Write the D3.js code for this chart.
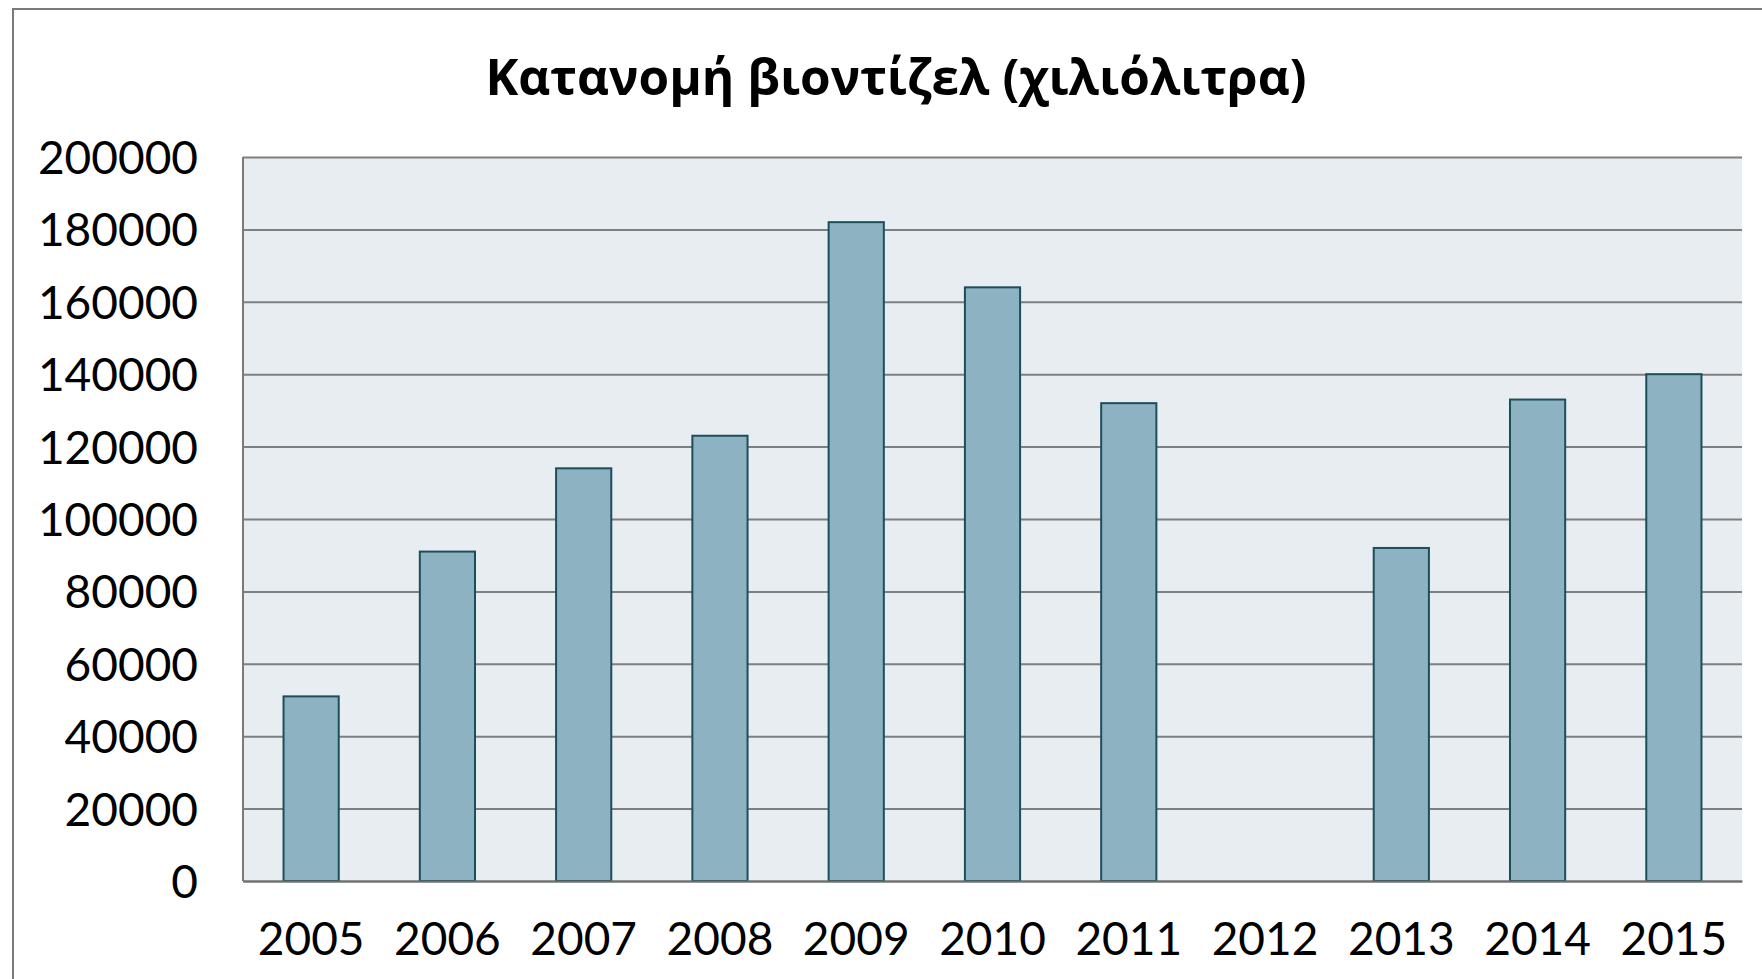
<!DOCTYPE html>
<html>
<head>
<meta charset="utf-8">
<script src="https://cdn.jsdelivr.net/npm/d3@7"></script>
<style>
  html, body { margin: 0; padding: 0; background: #fff; }
  svg { display: block; }
</style>
</head>
<body>
<script>
// DATI DEL GRAFICO
//
var years = ["2005", "2006", "2007", "2008", "2009", "2010", "2011", "2012", "2013", "2014", "2015"];
var values = [51000, 91000, 114000, 123000, 182000, 164000, 132000, null, 92000, 133000, 140000];
var yTicks = [0, 20000, 40000, 60000, 80000, 100000, 120000, 140000, 160000, 180000, 200000];
var title = "Κατανομή βιοντίζελ (χιλιόλιτρα)";

var width = 1762;
var height = 979;

// AREA DEL GRAFICO
//
var plot = { left: 243, right: 1742, top: 157, bottom: 881 };

var svg = d3.select("body").append("svg")
  .attr("width", width)
  .attr("height", height);

// cornice esterna
svg.append("rect")
  .attr("x", 13).attr("y", 9)
  .attr("width", width + 20).attr("height", height + 20)
  .attr("fill", "#fff")
  .attr("stroke", "#7a7a7a")
  .attr("stroke-width", 2);

// titolo
svg.append("text")
  .attr("x", 896)
  .attr("y", 95)
  .attr("text-anchor", "middle")
  .attr("font-family", "'Open Sans', sans-serif")
  .attr("font-weight", "bold")
  .attr("font-size", 49.5)
  .attr("fill", "#000")
  .text(title);

var x = d3.scaleBand()
  .domain(years)
  .range([plot.left, plot.right])
  .paddingInner(0)
  .paddingOuter(0);

var y = d3.scaleLinear()
  .domain([0, 200000])
  .range([plot.bottom, plot.top]);

// sfondo area
svg.append("rect")
  .attr("x", plot.left).attr("y", plot.top)
  .attr("width", plot.right - plot.left)
  .attr("height", plot.bottom - plot.top)
  .attr("fill", "#e8edf1");

// griglia + etichette asse y
var yAxis = d3.axisLeft(y)
  .tickValues(yTicks)
  .tickFormat(d3.format("d"))
  .tickSize(-(plot.right - plot.left));

var gy = svg.append("g")
  .attr("transform", "translate(" + plot.left + ",0)")
  .call(yAxis);

gy.select(".domain").remove();
gy.selectAll(".tick line")
  .attr("stroke", "#7f7f7f")
  .attr("stroke-width", 2);
gy.selectAll(".tick text")
  .attr("x", 198 - plot.left)
  .attr("dy", "0.36em")
  .attr("font-family", "Lato, sans-serif")
  .attr("font-size", 46)
  .attr("fill", "#000");

// barre
var barW = x.bandwidth() * 0.405;

svg.selectAll(".bar")
  .data(years.map(function(d, i) { return { year: d, value: values[i] }; })
    .filter(function(d) { return d.value != null; }))
  .enter().append("rect")
  .attr("class", "bar")
  .attr("x", function(d) { return x(d.year) + x.bandwidth() / 2 - barW / 2; })
  .attr("y", function(d) { return y(d.value); })
  .attr("width", barW)
  .attr("height", function(d) { return y(0) - y(d.value); })
  .attr("fill", "#8db2c1")
  .attr("stroke", "#1c4e5b")
  .attr("stroke-width", 2);

// asse verticale e asse orizzontale
svg.append("line")
  .attr("x1", plot.left).attr("x2", plot.left)
  .attr("y1", plot.top).attr("y2", plot.bottom)
  .attr("stroke", "#7a7a7a").attr("stroke-width", 2);

var xAxis = d3.axisBottom(x).tickSize(0).tickPadding(0);
var gx = svg.append("g")
  .attr("transform", "translate(0," + plot.bottom + ")")
  .call(xAxis);

gx.select(".domain")
  .attr("stroke", "#6f6f6f")
  .attr("stroke-width", 2);
gx.selectAll(".tick text")
  .attr("y", 57)
  .attr("dy", "0.36em")
  .attr("font-family", "Lato, sans-serif")
  .attr("font-size", 46)
  .attr("fill", "#000");
</script>
</body>
</html>
